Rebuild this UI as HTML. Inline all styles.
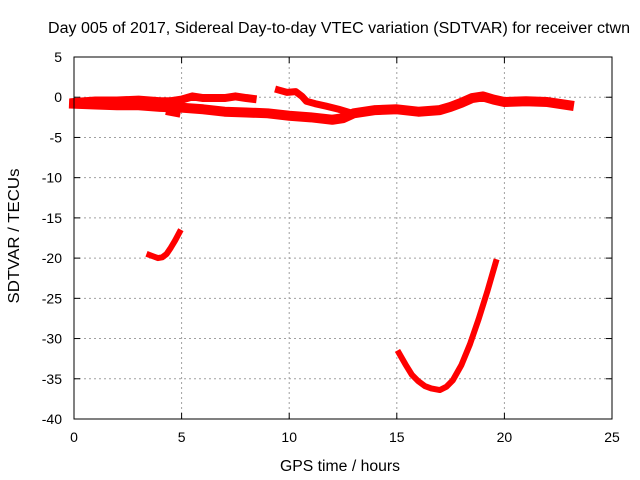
<!DOCTYPE html>
<html><head><meta charset="utf-8"><style>
body{margin:0;background:#fff;}
svg{display:block;font-family:"Liberation Sans",sans-serif;}
</style></head><body>
<svg id="chart" width="640" height="480">
<text x="339" y="33" font-size="15.5" text-anchor="middle" textLength="582" lengthAdjust="spacingAndGlyphs">Day 005 of 2017, Sidereal Day-to-day VTEC variation (SDTVAR) for receiver ctwn</text>
<text x="340" y="471" font-size="15.5" text-anchor="middle" textLength="120" lengthAdjust="spacingAndGlyphs">GPS time / hours</text>
<text transform="translate(19,236) rotate(-90)" font-size="15.5" text-anchor="middle" textLength="135" lengthAdjust="spacingAndGlyphs">SDTVAR / TECUs</text>
<g id="grid"></g><g id="ticks"></g><g id="series"></g>
<rect x="74" y="57" width="538" height="362" fill="none" stroke="#000" stroke-width="1"/>
</svg>
<script>
const xTicks=[0,5,10,15,20,25];
const yTicks=[5,0,-5,-10,-15,-20,-25,-30,-35,-40];
const upperHours=[0,0.5,1,2,3,4,4.5,5,5.5,6,7,7.5,8,8.3];
const upperVals=[-0.6,-0.5,-0.4,-0.4,-0.3,-0.5,-0.5,-0.3,0.1,-0.1,-0.1,0.1,-0.1,-0.2];
const lowerHours=[0,1,2,3,4,5,6,7,8,9,10,11,12,12.5,13,14,15,16,17,17.5,18,18.5,19,19.5,20,21,22,23];
const lowerVals=[-0.8,-0.9,-1.0,-1.0,-1.2,-1.3,-1.5,-1.8,-1.9,-2.0,-2.3,-2.5,-2.8,-2.6,-2.0,-1.6,-1.5,-1.8,-1.6,-1.2,-0.7,-0.1,0.1,-0.3,-0.6,-0.5,-0.6,-1.0];
const midHours=[9.5,9.9,10.3,10.6,10.8,11.2,11.7,12.3,12.8];
const midVals=[0.9,0.6,0.7,0.1,-0.5,-0.8,-1.1,-1.5,-1.9];
const blobHours=[4.4,4.8];
const blobVals=[-1.9,-2.1];
const morningHours=[3.5,3.7,3.9,4.1,4.3,4.5,4.7,4.9];
const morningVals=[-19.6,-19.8,-20.0,-19.9,-19.5,-18.7,-17.8,-16.8];
const afternoonHours=[15.1,15.4,15.7,16,16.3,16.6,17,17.3,17.6,18,18.4,18.8,19.2,19.6];
const afternoonVals=[-31.8,-33.2,-34.5,-35.3,-35.9,-36.2,-36.4,-36.0,-35.2,-33.3,-30.7,-27.6,-24.2,-20.5];
const X=h=>74+h*538/25;
const Y=v=>57+(5-v)*362/45;
const NS="http://www.w3.org/2000/svg";
const g=document.getElementById('grid'),t=document.getElementById('ticks'),s=document.getElementById('series');
function mk(tag,a,p){const e=document.createElementNS(NS,tag);for(const k in a)e.setAttribute(k,a[k]);p.appendChild(e);return e;}
xTicks.forEach(v=>{
 if(v>0&&v<25){const l=mk('line',{x1:X(v),x2:X(v),y1:57,y2:419,stroke:'#a0a0a0','stroke-dasharray':'2,3'},g);
 
 }
 const tx=mk('text',{x:X(v),y:442,'font-size':14,'text-anchor':'middle'},t);tx.textContent=v;
 
 
 mk('line',{x1:X(v),x2:X(v),y1:419,y2:413,stroke:'#000'},t);
 mk('line',{x1:X(v),x2:X(v),y1:57,y2:63,stroke:'#000'},t);
});
yTicks.forEach(v=>{
 if(v<5&&v>-40){const l=mk('line',{x1:74,x2:612,y1:Y(v),y2:Y(v),stroke:'#a0a0a0','stroke-dasharray':'2,3'},g);
 
 }
 const tx=mk('text',{x:62,y:Y(v)+5,'font-size':14,'text-anchor':'end'},t);tx.textContent=v;
 
 
 mk('line',{x1:74,x2:80,y1:Y(v),y2:Y(v),stroke:'#000'},t);
 mk('line',{x1:612,x2:606,y1:Y(v),y2:Y(v),stroke:'#000'},t);
});
function series(hs,vs,name,w){
 const p=mk('polyline',{points:hs.map((h,i)=>X(h)+','+Y(vs[i])).join(' '),fill:'none',stroke:'#ff0000','stroke-width':w,'stroke-linejoin':'round','stroke-linecap':'square'},s);
 
 
}
series(upperHours,upperVals,'upper-band-series',8);
series(lowerHours,lowerVals,'lower-band-series',10);
series(midHours,midVals,'mid-band-series',7);
series(blobHours,blobVals,'small-segment-series',6);
series(morningHours,morningVals,'morning-arc-series',6);
series(afternoonHours,afternoonVals,'afternoon-arc-series',6);
</script>
</body></html>
